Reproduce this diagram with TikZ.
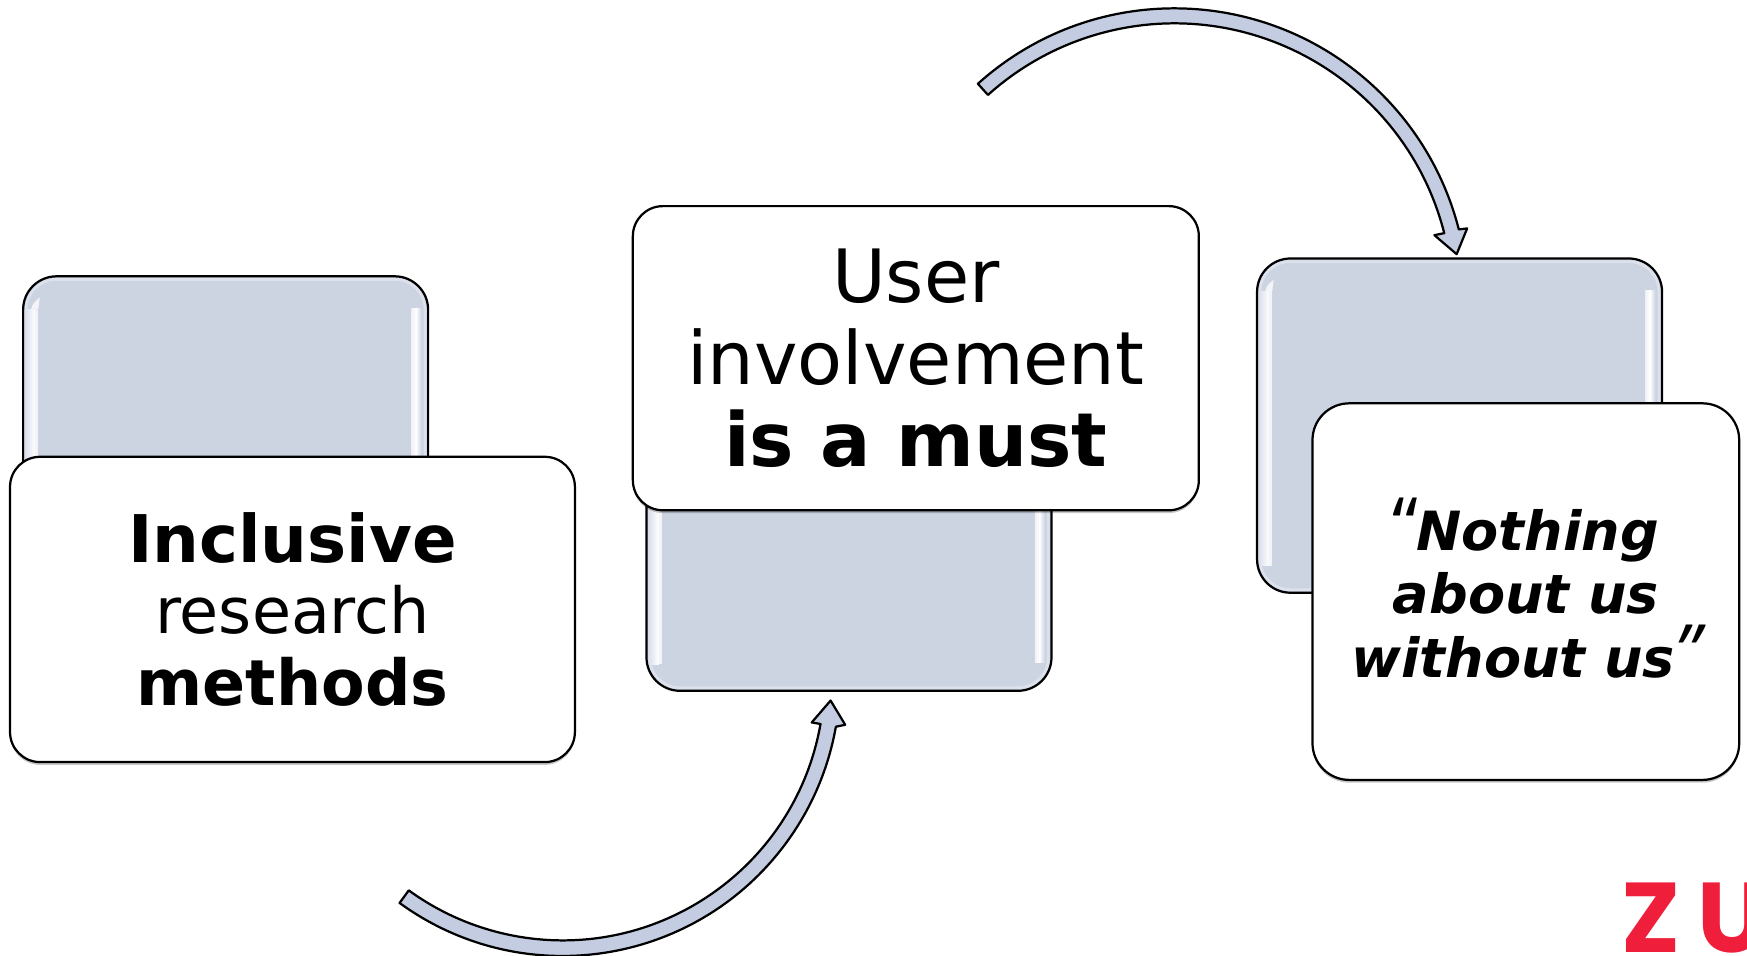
\documentclass[tikz,border=0pt]{standalone}
\usepackage{fontspec}
\setmainfont{DejaVu Sans}
\newfontfamily\logofont{Poppins}
\newfontfamily\quotefont{Open Sans}
\usetikzlibrary{shadows}
\definecolor{boxblue}{HTML}{CCD3E1}
\definecolor{edgeblue}{HTML}{DCE1EC}
\definecolor{arrowblue}{HTML}{C4CCE2}
\definecolor{logored}{HTML}{EF1F3B}
\tikzset{
  x=1pt,y=1pt,
  bluebox/.style={draw=black,line width=2pt,fill=boxblue,rectangle,rounded corners=30pt,outer sep=0pt,inner sep=0pt,minimum width=363.5pt,minimum height=300pt},
  whitebox/.style={draw=black,line width=2pt,fill=white,rectangle,outer sep=0pt,inner sep=0pt,align=center,
    drop shadow={shadow xshift=0pt,shadow yshift=-2.5pt,opacity=.22,fill=black}},
  curvearrow/.style={draw=black,line width=2pt,fill=arrowblue,line join=round},
  rim/.style={draw=edgeblue,line width=2.4pt,rounded corners=27pt},
}
\newcommand{\glossbox}[3]{%
  \node[bluebox] (#1) at (#2,#3) {};
  \draw[rim] ([shift={(2.8pt,-2.8pt)}]#1.north west) rectangle ([shift={(-2.8pt,2.8pt)}]#1.south east);
  \shade[left color=edgeblue,right color=white] ([shift={(2.2pt,-30pt)}]#1.north west) rectangle ([shift={(11pt,24pt)}]#1.south west);
  \fill[white!75!boxblue] ([shift={(11pt,-30pt)}]#1.north west) -- ([shift={(13.5pt,-30pt)}]#1.north west) -- ([shift={(13.5pt,24pt)}]#1.south west) -- ([shift={(11pt,24pt)}]#1.south west) -- cycle;
  \fill[white!75!boxblue] ([shift={(7pt,-30pt)}]#1.north west) .. controls ([shift={(9pt,-24pt)}]#1.north west) .. ([shift={(15pt,-19pt)}]#1.north west) .. controls ([shift={(14pt,-24pt)}]#1.north west) .. ([shift={(13.5pt,-30pt)}]#1.north west) -- cycle;
  \shade[left color=white!70!boxblue,right color=white] ([shift={(-15pt,-29pt)}]#1.north east) rectangle ([shift={(-11pt,25pt)}]#1.south east);
  \shade[left color=white,right color=boxblue] ([shift={(-11pt,-29pt)}]#1.north east) rectangle ([shift={(-6pt,25pt)}]#1.south east);
}
\begin{document}
\begin{tikzpicture}
\useasboundingbox (0,0) rectangle (1568,-858);
\fill[white] (0,0) rectangle (1568,-858);

\glossbox{blueA}{202.5}{-398}
\glossbox{blueB}{762}{-470}
\glossbox{blueC}{1310}{-382}

\node[whitebox,rounded corners=27pt,minimum width=507pt,minimum height=274pt,
      font=\fontsize{57}{64}\selectfont] (whiteA) at (262.5,-547)
  {{\fontsize{59}{64}\selectfont\textbf{Inclusive}}\\research\\\textbf{methods}};
\node[whitebox,rounded corners=27pt,minimum width=508pt,minimum height=273pt,
      font=\fontsize{66}{73.5}\selectfont] (whiteB) at (822,-321.5)
  {User\\involvement\\{\fontsize{67}{73.5}\selectfont\textbf{is a must}}};
\node[whitebox,rounded corners=33pt,minimum width=383pt,minimum height=338pt] (whiteC) at (1369.5,-531) {};
\node[inner sep=0pt,align=center,font=\fontsize{48.5}{57}\selectfont] (whiteCtext) at (1369.5,-527.5)
  {{\quotefont\fontsize{66}{57}\selectfont“}\kern-2pt\textbf{\textit{Nothing}}\\\textbf{\textit{about us}}\\\textbf{\textit{without us}}{\quotefont\itshape\fontsize{66}{57}\selectfont”}};

\coordinate (topc) at (1054,-271);
\draw[curvearrow] ([shift={(132:263.5pt)}]topc)
  arc[start angle=132,end angle=14.3,radius=263.5pt]
  -- ([shift={(14.1:271pt)}]topc) -- ([shift={(9.6:257pt)}]topc)
  -- ([shift={(14.4:241pt)}]topc) -- ([shift={(14.3:250pt)}]topc)
  arc[start angle=14.3,end angle=132,radius=250pt] -- cycle;

\coordinate (botc) at (505,-609);
\draw[curvearrow] ([shift={(234:249pt)}]botc)
  arc[start angle=234,end angle=350,radius=249pt]
  -- ([shift={(-9.3:257pt)}]botc) -- ([shift={(-4.7:241.3pt)}]botc)
  -- ([shift={(-10:227pt)}]botc) -- ([shift={(-10:235pt)}]botc)
  arc[start angle=350,end angle=234,radius=235pt] -- cycle;

\node[anchor=base west,inner sep=0pt,text=logored,font=\logofont\bfseries\fontsize{89}{89}\selectfont] (logo) at (1455,-855) {Z\kern15pt U};
\end{tikzpicture}
\end{document}
